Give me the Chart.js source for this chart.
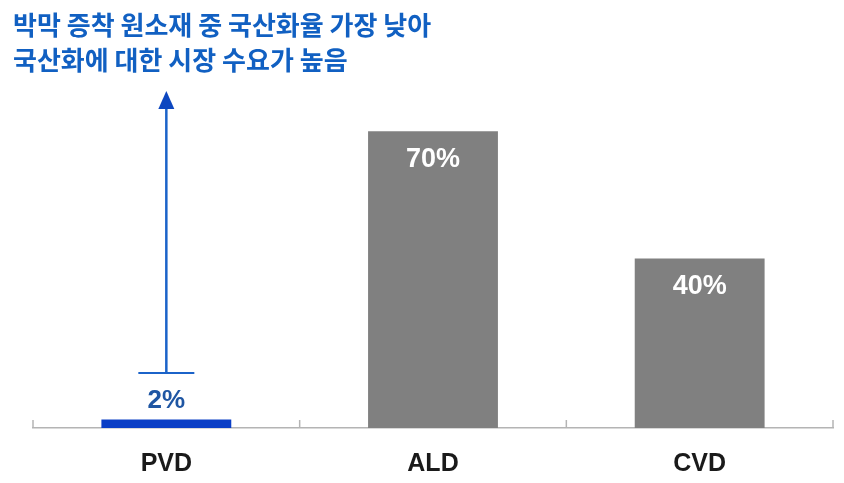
<!DOCTYPE html>
<html>
<head>
<meta charset="utf-8">
<script src="https://cdn.jsdelivr.net/npm/chart.js@4.4.1/dist/chart.umd.min.js"></script>
<style>
html,body{margin:0;padding:0;background:#fff;}
#wrap{width:844px;height:483px;position:relative;}
</style>
</head>
<body>
<div id="wrap"><canvas id="c"></canvas></div>
<script>
const categories = ['PVD', 'ALD', 'CVD'];
const localizationRate = [2, 70, 40];
const valueLabels = ['2%', '70%', '40%'];
const titleLines = ['박막 증착 원소재 중 국산화율 가장 낮아', '국산화에 대한 시장 수요가 높음'];
const arrowFromValue = 13;
const arrowToValue = 79;

const barColors = ['#0b3fc6', '#808080', '#808080'];
const latinFont = '"Liberation Sans", Arial, sans-serif';

const overlay = {
  id: 'overlay',
  afterDraw(chart) {
    const ctx = chart.ctx;
    const xs = chart.scales.x, ys = chart.scales.y;
    const area = chart.chartArea;
    ctx.save();
    // upward ticks at category boundaries
    ctx.strokeStyle = '#b4b4b4';
    ctx.lineWidth = 1.5;
    const n = categories.length;
    const bounds = [];
    for (let i = 0; i <= n; i++) {
      let px;
      if (i === 0) px = area.left;
      else if (i === n) px = area.right;
      else px = (xs.getPixelForValue(i - 1) + xs.getPixelForValue(i)) / 2;
      bounds.push(px);
    }
    const base = ys.getPixelForValue(0);
    bounds.forEach(px => {
      ctx.beginPath();
      ctx.moveTo(px, base);
      ctx.lineTo(px, base - 8);
      ctx.stroke();
    });

    // value labels
    const meta = chart.getDatasetMeta(0);
    meta.data.forEach((bar, i) => {
      const v = localizationRate[i];
      ctx.textAlign = 'center';
      ctx.textBaseline = 'middle';
      if (v < 10) {
        ctx.fillStyle = '#1f56a3';
        ctx.font = 'bold 26px ' + latinFont;
        ctx.fillText(valueLabels[i], bar.x, bar.y - 19);
      } else {
        ctx.fillStyle = '#ffffff';
        ctx.font = 'bold 27px ' + latinFont;
        ctx.fillText(valueLabels[i], bar.x, bar.y + 28);
      }
    });

    // arrow above PVD
    const pvd = meta.data[0];
    const ax = pvd.x;
    const yFrom = ys.getPixelForValue(arrowFromValue);
    const yTo = ys.getPixelForValue(arrowToValue);
    ctx.strokeStyle = '#1b63c9';
    ctx.fillStyle = '#0d47c0';
    ctx.lineWidth = 2;
    ctx.beginPath();
    ctx.moveTo(ax - 28, yFrom);
    ctx.lineTo(ax + 28, yFrom);
    ctx.stroke();
    ctx.lineWidth = 2.5;
    ctx.beginPath();
    ctx.moveTo(ax, yFrom);
    ctx.lineTo(ax, yTo + 14);
    ctx.stroke();
    ctx.beginPath();
    ctx.moveTo(ax, yTo - 2);
    ctx.lineTo(ax - 8, yTo + 16);
    ctx.lineTo(ax + 8, yTo + 16);
    ctx.closePath();
    ctx.fill();

    // title
    ctx.fillStyle = '#1160c2';
    ctx.font = 'bold 26px "Noto Sans CJK KR", sans-serif';
    ctx.textAlign = 'left';
    ctx.textBaseline = 'middle';
    ctx.fillText(titleLines[0], 13, 25);
    ctx.fillText(titleLines[1], 13, 60);
    ctx.restore();
  }
};

new Chart(document.getElementById('c'), {
  type: 'bar',
  data: {
    labels: categories,
    datasets: [{
      data: localizationRate,
      backgroundColor: barColors,
      borderWidth: 0,
      barPercentage: 0.487,
      categoryPercentage: 1.0
    }]
  },
  options: {
    responsive: true,
    maintainAspectRatio: false,
    animation: false,
    devicePixelRatio: 1,
    layout: { padding: { left: 33, right: 11, top: 4, bottom: 6 } },
    plugins: { legend: { display: false }, tooltip: { enabled: false }, title: { display: false } },
    scales: {
      x: {
        grid: { display: false, drawTicks: false },
        border: { display: true, color: '#b4b4b4', width: 1.5 },
        afterFit(scale) { scale.height = 49; },
        ticks: {
          padding: 21,
          color: '#1a1a1a',
          font: { family: latinFont, size: 25, weight: 'bold' }
        }
      },
      y: {
        display: false,
        min: 0,
        max: 100
      }
    }
  },
  plugins: [overlay]
});
</script>
</body>
</html>
